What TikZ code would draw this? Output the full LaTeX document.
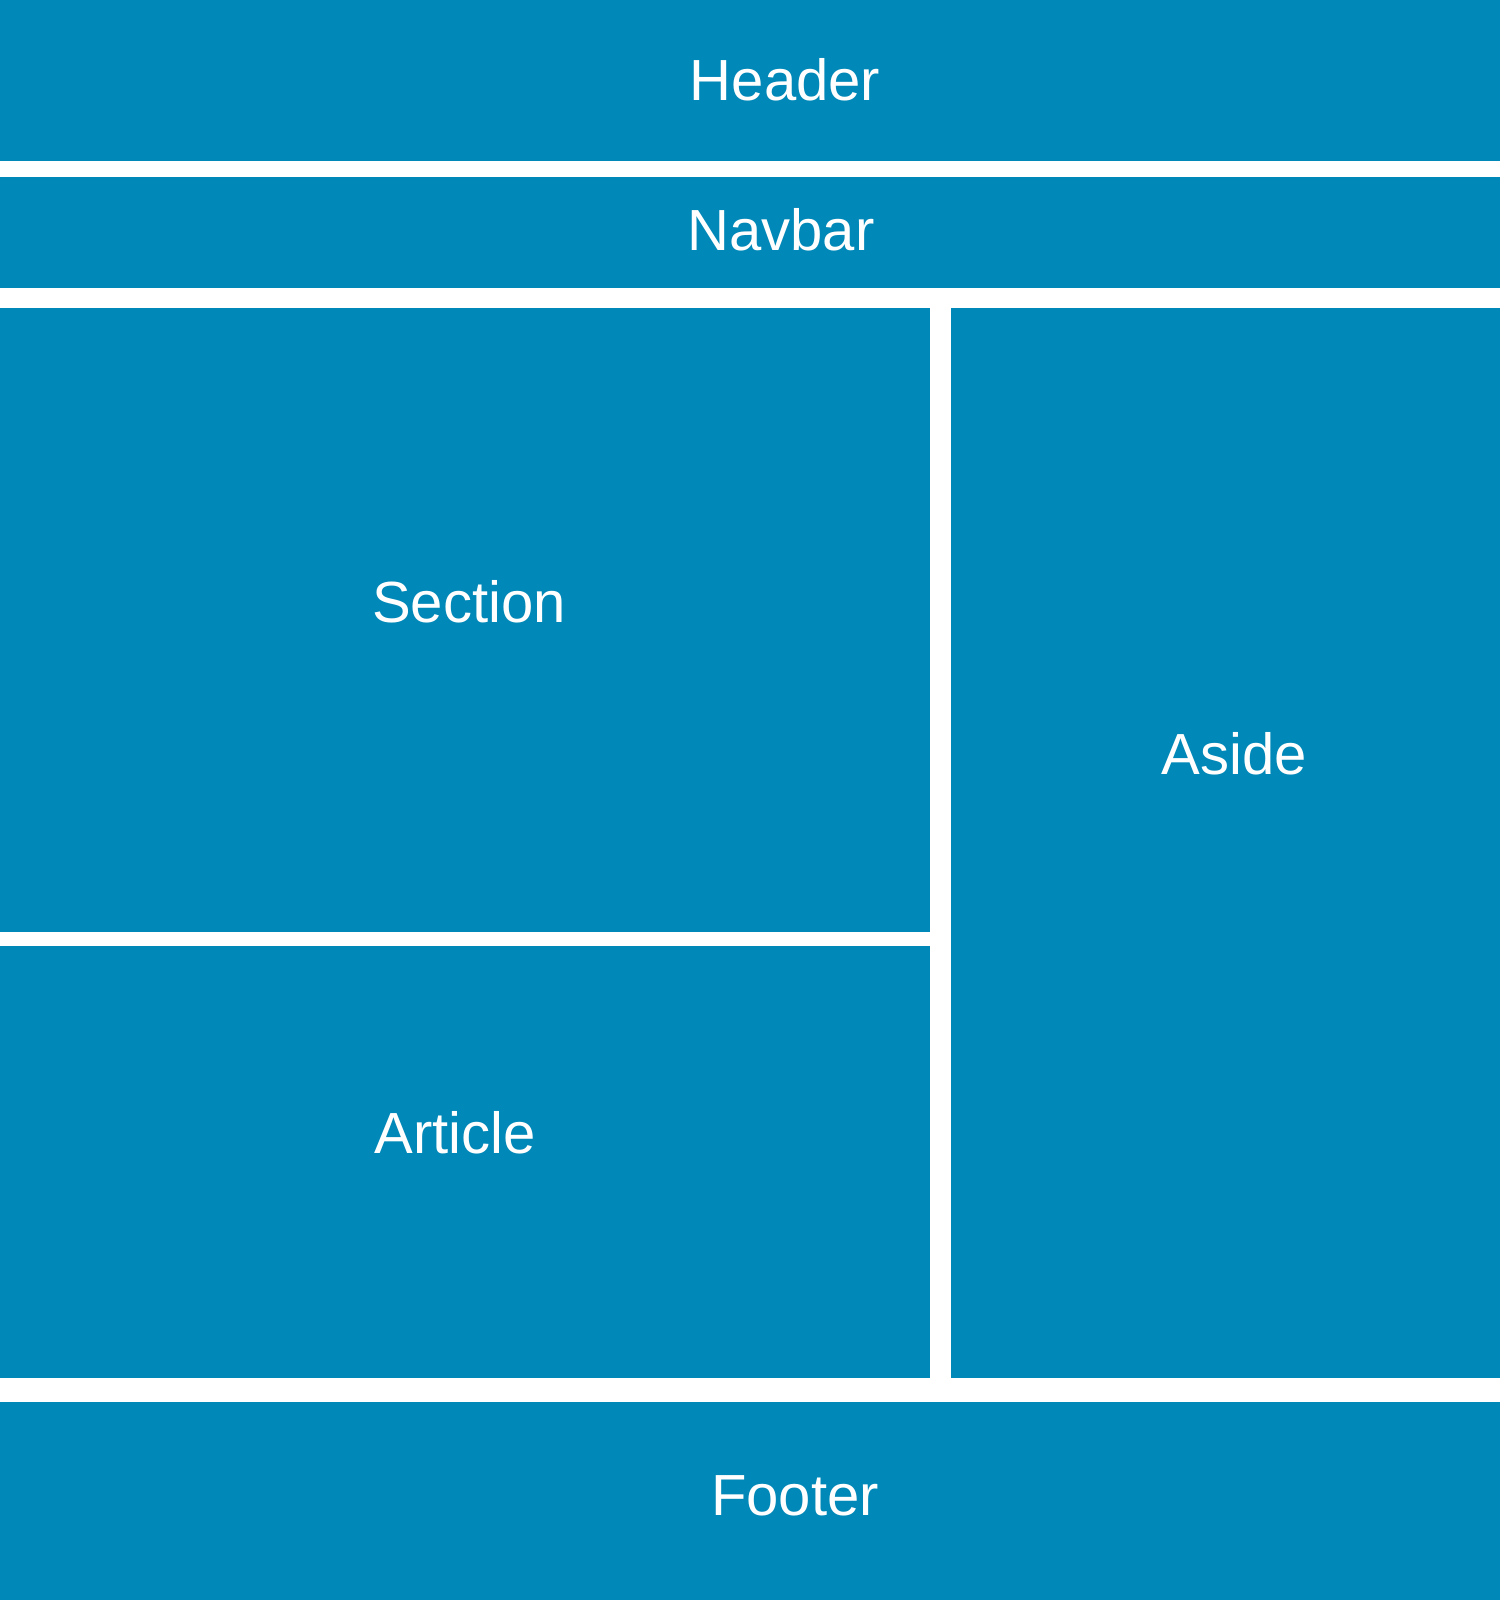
\documentclass[tikz,border=0pt]{standalone}
\usepackage{fontspec}
\setmainfont{Liberation Sans}
\usepackage{tikz}
\definecolor{panelblue}{RGB}{0,136,184}

\begin{document}
\begin{tikzpicture}[
            x = 0.01cm, % one unit per pixel
            y = -0.01cm, % y runs downwards
            every node/.style = {text = white, font = \fontsize{16.5}{20}\selectfont}
        ]

        \tikzstyle{panel}=[
            fill = panelblue
        ]

        \useasboundingbox (0,0) rectangle (1500,1600);

        % blocks of the page
        \fill[panel] (0,0) rectangle (1500,161);
        \fill[panel] (0,177) rectangle (1500,288);
        \fill[panel] (0,308) rectangle (930,932);
        \fill[panel] (0,946) rectangle (930,1378);
        \fill[panel] (951,308) rectangle (1500,1378);
        \fill[panel] (0,1402) rectangle (1500,1600);

        % labels
        \node[anchor=base] (header) at (785,101) {Header};
        \node[anchor=base] (navbar) at (781,250) {Navbar};
        \node[anchor=base] (section) at (469,622) {Section};
        \node[anchor=base] (article) at (455,1153) {Article};
        \node[anchor=base] (aside) at (1234,774) {Aside};
        \node[anchor=base] (footer) at (795,1515) {Footer};

    \end{tikzpicture}
\end{document}
